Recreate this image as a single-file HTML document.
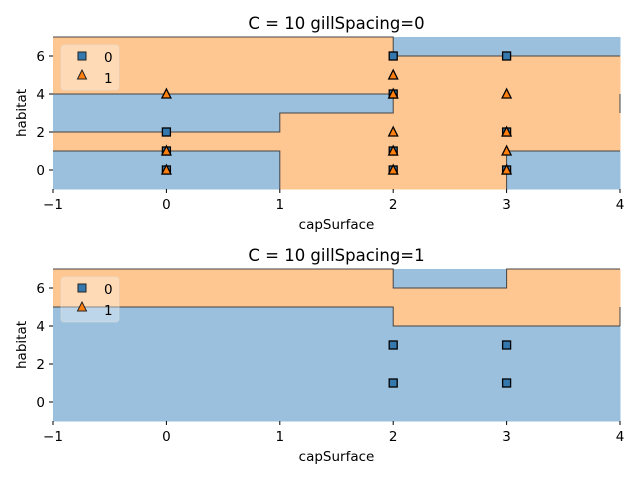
<!DOCTYPE html>
<html><head><meta charset="utf-8"><style>
body{margin:0;background:#fff;font-family:"Liberation Sans","DejaVu Sans",sans-serif}
svg text{font-family:"DejaVu Sans","Liberation Sans",sans-serif}
</style></head><body>
<svg id="chart" width="640" height="480"></svg>
<script>
const xTicks=[-1,0,1,2,3,4];
const yTicks=[0,2,4,6];
const titles=["C = 10 gillSpacing=0","C = 10 gillSpacing=1"];
// regions: [x0,x1,y0,y1,class]
const regionsTop=[[-1,2,4,7,1],[-1,1,2,4,0],[1,2,3,4,0],[-1,1,1,2,1],[-1,1,-1,1,0],[1,2,-1,3,1],[2,4,6,7,0],[2,4,1,6,1],[2,3,-1,1,1],[3,4,-1,1,0]];
const regionsBot=[[-1,2,5,7,1],[-1,2,-1,5,0],[2,3,6,7,0],[2,3,4,6,1],[3,4,4,7,1],[2,4,-1,4,0]];
// boundary polylines (data coords)
const boundTop=[[[-1,7],[2,7],[2,6],[4,6]],[[-1,4],[2,4],[2,3],[1,3],[1,2],[-1,2]],[[-1,1],[1,1],[1,-1]],[[4,1],[3,1],[3,-1]],[[4,4],[4,3]]];
const boundBot=[[[-1,7],[2,7],[2,6],[3,6],[3,7],[4,7]],[[-1,5],[2,5],[2,4],[4,4]],[[4,5],[4,4]]];
const sqTop=[[0,2],[0,1],[0,0],[2,6],[2,4],[2,1],[2,0],[3,6],[3,2],[3,0]];
const triTop=[[0,4],[0,1],[0,0],[2,5],[2,4],[2,2],[2,1],[2,0],[3,4],[3,2],[3,1],[3,0]];
const sqBot=[[2,3],[2,1],[3,3],[3,1]];
const triBot=[];
const NS="http://www.w3.org/2000/svg";
const svg=document.getElementById('chart');
function mk(t,a,p){const e=document.createElementNS(NS,t);for(const k in a)e.setAttribute(k,a[k]);(p||svg).appendChild(e);return e;}
const X0=53,X1=620;
const sx=v=>X0+(v+1)*(X1-X0)/5;
const lab=v=>v<0?'\u2212'+(-v):String(v);
function panel(top,title,regions,bounds,sq,tri,idx){
  const T=top,B=top+152;
  const sy=v=>B-(v+1)*(B-T)/8;
  const g=mk('g',{});
  
  
  regions.forEach(r=>{
    const e=mk('rect',{x:sx(r[0]),y:sy(r[3]),width:sx(r[1])-sx(r[0])+0.5,height:sy(r[2])-sy(r[3])+0.5,fill:r[4]?'#fec691':'#9bc0dd'},g);
    
    
  });
  bounds.forEach(b=>{
    const e=mk('polyline',{points:b.map(p=>sx(p[0])+','+sy(p[1])).join(' '),fill:'none',stroke:'#444','stroke-width':1},g);
    
    
  });
  xTicks.forEach(v=>{
    mk('line',{x1:sx(v),y1:B,x2:sx(v),y2:B+4,stroke:'#000'},g);
    const t=mk('text',{x:sx(v),y:B+20,'text-anchor':'middle','font-size':13.5},g);t.textContent=lab(v);
    
    
  });
  yTicks.forEach(v=>{
    mk('line',{x1:X0-4,y1:sy(v),x2:X0,y2:sy(v),stroke:'#000'},g);
    const t=mk('text',{x:X0-8,y:sy(v)+5,'text-anchor':'end','font-size':13.5},g);t.textContent=lab(v);
    
    
  });
  const tt=mk('text',{x:(X0+X1)/2,y:T-8,'text-anchor':'middle','font-size':16.5},g);tt.textContent=title;
  
  
  const xl=mk('text',{x:(X0+X1)/2,y:B+40,'text-anchor':'middle','font-size':13.5},g);xl.textContent='capSurface';
  
  
  const yl=mk('text',{x:0,y:0,'text-anchor':'middle','font-size':13.5,transform:`translate(26,${(T+B)/2}) rotate(-90)`},g);yl.textContent='habitat';
  
  
  sq.forEach(p=>{
    const e=mk('rect',{x:sx(p[0])-4,y:sy(p[1])-4,width:8,height:8,fill:'#3478ad',stroke:'#000','stroke-width':1.3},g);
    
    
  });
  tri.forEach(p=>{
    const cx=sx(p[0]),cy=sy(p[1]);
    const e=mk('polygon',{points:`${cx},${cy-5} ${cx-4.5},${cy+4} ${cx+4.5},${cy+4}`,fill:'#ff7f0e',stroke:'#000','stroke-width':1.3},g);
    
    
  });
  const lg=mk('g',{},g);
  
  
  mk('rect',{x:61,y:T+8,width:58,height:45,rx:3,fill:'#fff','fill-opacity':0.35,stroke:'#ddd','stroke-opacity':0.5},lg);
  mk('rect',{x:78,y:T+15,width:8,height:8,fill:'#3478ad',stroke:'#222'},lg);
  mk('polygon',{points:`82,${T+33} 77.5,${T+42} 86.5,${T+42}`,fill:'#ff7f0e',stroke:'#222'},lg);
  const l0=mk('text',{x:104,y:T+25,'font-size':13.5},lg);l0.textContent='0';
  const l1=mk('text',{x:104,y:T+46,'font-size':13.5},lg);l1.textContent='1';
}
panel(37,titles[0],regionsTop,boundTop,sqTop,triTop,'top');
panel(269,titles[1],regionsBot,boundBot,sqBot,triBot,'bottom');
</script>
</body></html>
